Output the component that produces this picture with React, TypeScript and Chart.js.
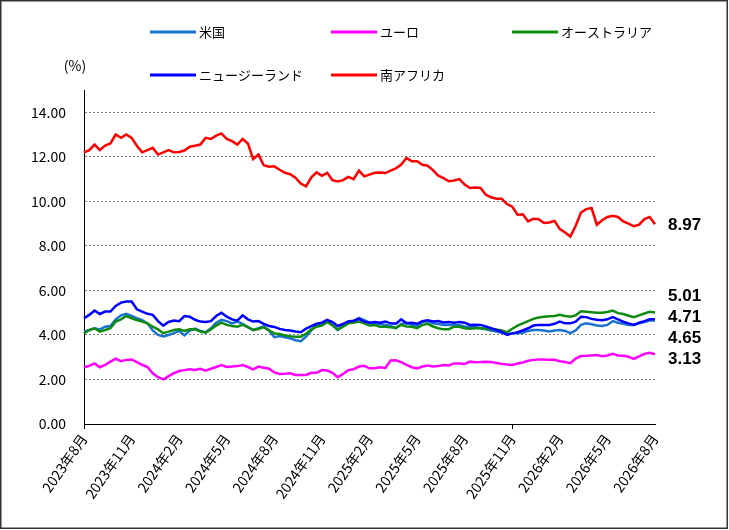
import React, { useEffect, useRef } from 'react';
import { Chart, registerables } from 'chart.js';

Chart.register(...registerables);

// 10日おきの観測点 (2023/8/1 〜 2026/8/1)
const days = [1, 11, 21];
const dates: string[] = [];
for (let i = 0; i <= 108; i++) {
  const mm = 7 + Math.floor(i / 3);
  const y = 2023 + Math.floor(mm / 12);
  dates.push(`${y}/${(mm % 12) + 1}/${days[i % 3]}`);
}

const seriesNames = ['米国', 'ユーロ', 'オーストラリア', 'ニュージーランド', '南アフリカ'];
const seriesColors = ['#1a73d0', '#ff00ff', '#108a10', '#0000ff', '#ff0000'];

const usa = [
  4.15, 4.22, 4.3, 4.25, 4.37, 4.4, 4.7, 4.88, 4.95, 4.85, 4.75, 4.67, 4.52, 4.2, 4.0, 3.93, 4.0, 4.08,
  4.18, 3.98, 4.2, 4.28, 4.18, 4.12, 4.3, 4.55, 4.68, 4.62, 4.52, 4.6, 4.5, 4.35, 4.22, 4.3, 4.38, 4.2,
  3.9, 3.95, 3.9, 3.85, 3.76, 3.72, 3.92, 4.2, 4.45, 4.52, 4.62, 4.45, 4.22, 4.43, 4.6, 4.62, 4.76, 4.66,
  4.55, 4.52, 4.49, 4.45, 4.4, 4.3, 4.5, 4.55, 4.46, 4.4, 4.58, 4.62, 4.52, 4.49, 4.45, 4.45, 4.44, 4.44,
  4.38, 4.36, 4.35, 4.3, 4.25, 4.2, 4.15, 4.1, 4.04, 4.07, 4.08, 4.1, 4.18, 4.22, 4.22, 4.2, 4.16, 4.2,
  4.22, 4.18, 4.08, 4.2, 4.45, 4.52, 4.48, 4.42, 4.4, 4.45, 4.62, 4.55, 4.5, 4.45, 4.45, 4.52, 4.58, 4.66,
  4.65,
];
const euro = [
  2.55, 2.61, 2.72, 2.55, 2.65, 2.8, 2.93, 2.82, 2.88, 2.9, 2.78, 2.66, 2.56, 2.28, 2.1, 2.0, 2.15, 2.28,
  2.38, 2.42, 2.46, 2.43, 2.48, 2.4, 2.48, 2.56, 2.65, 2.56, 2.58, 2.6, 2.65, 2.56, 2.45, 2.58, 2.53, 2.48,
  2.32, 2.25, 2.26, 2.28, 2.2, 2.2, 2.2, 2.3, 2.3, 2.42, 2.4, 2.3, 2.1, 2.25, 2.42, 2.46, 2.58, 2.61,
  2.5, 2.5, 2.55, 2.52, 2.85, 2.86, 2.78, 2.66, 2.55, 2.5, 2.58, 2.63, 2.58, 2.6, 2.65, 2.63, 2.72, 2.72,
  2.7, 2.8, 2.77, 2.78, 2.8, 2.78, 2.74, 2.7, 2.67, 2.65, 2.72, 2.76, 2.84, 2.88, 2.9, 2.9, 2.88, 2.88,
  2.82, 2.78, 2.73, 2.94, 3.05, 3.06, 3.08, 3.1, 3.04, 3.08, 3.15, 3.08, 3.06, 3.02, 2.92, 3.04, 3.15, 3.2,
  3.13,
];
const australia = [
  4.07, 4.22, 4.3, 4.15, 4.22, 4.3, 4.6, 4.7, 4.85, 4.75, 4.67, 4.6, 4.52, 4.37, 4.25, 4.08, 4.15, 4.22,
  4.25, 4.18, 4.25, 4.25, 4.15, 4.1, 4.25, 4.42, 4.55, 4.45, 4.4, 4.37, 4.45, 4.35, 4.22, 4.27, 4.35, 4.2,
  4.07, 4.04, 3.98, 3.94, 3.92, 3.92, 4.05, 4.25, 4.37, 4.42, 4.58, 4.42, 4.24, 4.37, 4.52, 4.55, 4.6, 4.52,
  4.42, 4.44, 4.37, 4.37, 4.35, 4.32, 4.45, 4.38, 4.37, 4.3, 4.45, 4.5, 4.38, 4.3, 4.25, 4.26, 4.37, 4.37,
  4.3, 4.28, 4.3, 4.3, 4.28, 4.25, 4.24, 4.2, 4.12, 4.28, 4.42, 4.52, 4.62, 4.72, 4.78, 4.82, 4.84, 4.85,
  4.9, 4.85, 4.82, 4.88, 5.06, 5.04, 5.02, 5.0, 5.0, 5.03, 5.09, 4.98, 4.94, 4.86, 4.8, 4.88, 4.96, 5.04,
  5.01,
];
const newZealand = [
  4.75, 4.9, 5.1, 4.94, 5.05, 5.05, 5.3, 5.45, 5.5, 5.5, 5.15, 5.05, 4.95, 4.9, 4.62, 4.42, 4.58, 4.65,
  4.62, 4.85, 4.82, 4.68, 4.6, 4.58, 4.62, 4.85, 5.0, 4.82, 4.7, 4.64, 4.88, 4.7, 4.6, 4.62, 4.5, 4.4,
  4.36, 4.27, 4.22, 4.2, 4.15, 4.12, 4.28, 4.4, 4.5, 4.55, 4.68, 4.58, 4.4, 4.5, 4.6, 4.64, 4.72, 4.6,
  4.55, 4.58, 4.55, 4.6, 4.52, 4.5, 4.7, 4.52, 4.55, 4.5, 4.62, 4.66, 4.6, 4.62, 4.56, 4.58, 4.55, 4.58,
  4.55, 4.45, 4.46, 4.45, 4.38, 4.3, 4.22, 4.15, 4.0, 4.07, 4.12, 4.2, 4.3, 4.42, 4.45, 4.45, 4.45, 4.5,
  4.6, 4.52, 4.52, 4.6, 4.82, 4.8, 4.72, 4.68, 4.66, 4.7, 4.8, 4.7, 4.6, 4.52, 4.45, 4.55, 4.62, 4.7,
  4.71,
];
const southAfrica = [
  12.2, 12.3, 12.55, 12.3, 12.5, 12.6, 13.0, 12.85, 13.0, 12.85, 12.5, 12.2, 12.3, 12.4, 12.1, 12.2, 12.3, 12.2,
  12.22, 12.28, 12.45, 12.5, 12.55, 12.85, 12.8, 12.95, 13.05, 12.8, 12.7, 12.55, 12.8, 12.6, 11.9, 12.1, 11.62, 11.55,
  11.57, 11.42, 11.28, 11.22, 11.06, 10.8, 10.67, 11.08, 11.3, 11.15, 11.28, 10.95, 10.89, 10.95, 11.1, 11.0, 11.38, 11.12,
  11.2, 11.28, 11.3, 11.27, 11.38, 11.48, 11.65, 11.95, 11.8, 11.8, 11.64, 11.6, 11.4, 11.15, 11.04, 10.9, 10.94, 11.0,
  10.75, 10.6, 10.62, 10.6, 10.3, 10.18, 10.12, 10.12, 9.88, 9.76, 9.4, 9.42, 9.1, 9.22, 9.2, 9.03, 9.05, 9.12,
  8.75, 8.6, 8.42, 8.9, 9.5, 9.65, 9.7, 8.95, 9.15, 9.3, 9.35, 9.3, 9.1, 9.0, 8.88, 8.95, 9.2, 9.3,
  8.97,
];
const seriesValues = [usa, euro, australia, newZealand, southAfrica];

const yTicks = [0, 2, 4, 6, 8, 10, 12, 14];

const FONT = "'Noto Sans CJK JP', sans-serif";

// 四半期ごとの目盛ラベル
const tickText = dates.map((d) => {
  const [y, m, day] = d.split('/').map(Number);
  return day === 1 && (m - 2) % 3 === 0 ? `${y}年${m}月` : null;
});

const framePlugin = {
  id: 'frame',
  afterDraw(chart: any) {
    const { ctx } = chart;
    ctx.save();
    ctx.strokeStyle = '#333';
    ctx.lineWidth = 1.5;
    ctx.strokeRect(0.75, 0.75, chart.width - 2.5, chart.height - 2.5);

    // 単位
    ctx.fillStyle = '#000';
    ctx.font = `14px ${FONT}`;
    ctx.textAlign = 'center';
    ctx.textBaseline = 'middle';
    ctx.fillText('(%)', 75, 66);

    // 凡例 (3列)
    ctx.textAlign = 'left';
    ctx.font = `13px ${FONT}`;
    seriesNames.forEach((name, i) => {
      const x = 150 + (i % 3) * 181;
      const y = 32 + Math.floor(i / 3) * 43;
      ctx.strokeStyle = seriesColors[i];
      ctx.lineWidth = 3;
      ctx.beginPath();
      ctx.moveTo(x, y);
      ctx.lineTo(x + 46, y);
      ctx.stroke();
      ctx.fillText(name, x + 49, y);
    });
    ctx.restore();
  },
};

const lastValuePlugin = {
  id: 'lastValue',
  afterDatasetsDraw(chart: any) {
    const { ctx, chartArea, scales } = chart;
    const items = seriesValues.map((vals) => {
      const v = vals[vals.length - 1];
      return { v, y: scales.y.getPixelForValue(v) };
    });
    items.sort((a, b) => a.y - b.y);
    const gap = 21;
    for (let k = 0; k < 60; k++) {
      for (let i = 0; i < items.length - 1; i++) {
        const d = items[i + 1].y - items[i].y;
        if (d < gap) {
          const push = (gap - d) / 2;
          items[i].y -= push;
          items[i + 1].y += push;
        }
      }
    }
    ctx.save();
    ctx.fillStyle = '#000';
    ctx.font = `bold 17px 'Liberation Sans', Arial, sans-serif`;
    ctx.textAlign = 'left';
    ctx.textBaseline = 'middle';
    items.forEach((it) => ctx.fillText(it.v.toFixed(2), chartArea.right + 13, it.y + 1));
    ctx.restore();
  },
};

export default function App() {
  const canvasRef = useRef<HTMLCanvasElement>(null);

  useEffect(() => {
    document.body.style.margin = '0';
    if (!canvasRef.current) return;

    const chart = new Chart(canvasRef.current, {
      type: 'line',
      data: {
        labels: dates,
        datasets: seriesValues.map((vals, i) => ({
          label: seriesNames[i],
          data: vals,
          borderColor: seriesColors[i],
          backgroundColor: seriesColors[i],
          borderWidth: 2.5,
          pointRadius: 0,
          tension: 0,
          order: seriesValues.length - i,
        })),
      },
      options: {
        animation: false,
        responsive: true,
        maintainAspectRatio: false,
        layout: { padding: { top: 90, right: 74, left: 0, bottom: 0 } },
        plugins: { legend: { display: false }, tooltip: { enabled: false } },
        scales: {
          x: {
            type: 'category',
            offset: false,
            afterFit: (s: any) => {
              s.height = 106;
            },
            grid: {
              drawOnChartArea: false,
              drawTicks: true,
              tickLength: 5,
              color: (c: any) => (tickText[c.index] ? '#000' : 'rgba(0,0,0,0)'),
              tickColor: (c: any) => (tickText[c.index] ? '#000' : 'rgba(0,0,0,0)'),
            },
            border: { display: true, color: '#000', width: 1 },
            ticks: {
              autoSkip: false,
              maxRotation: 55,
              minRotation: 55,
              padding: 2,
              color: '#000',
              font: { family: FONT, size: 14 },
              callback: (_v: any, i: number) => tickText[i],
            },
          },
          y: {
            min: 0,
            max: 15,
            afterFit: (s: any) => {
              s.width = 84;
            },
            afterBuildTicks: (s: any) => {
              s.ticks = yTicks.map((v) => ({ value: v }));
            },
            grid: { color: '#808080', lineWidth: 1, drawTicks: false },
            border: { display: true, color: '#000', width: 1, dash: [2, 2] },
            ticks: {
              padding: 18,
              color: '#000',
              font: { family: FONT, size: 14 },
              callback: (v: any) => Number(v).toFixed(2),
            },
          },
        },
      },
      plugins: [framePlugin, lastValuePlugin],
    });
    return () => chart.destroy();
  }, []);

  return (
    <div style={{ width: 729, height: 530, position: 'relative', background: '#fff' }}>
      <canvas ref={canvasRef} />
    </div>
  );
}
